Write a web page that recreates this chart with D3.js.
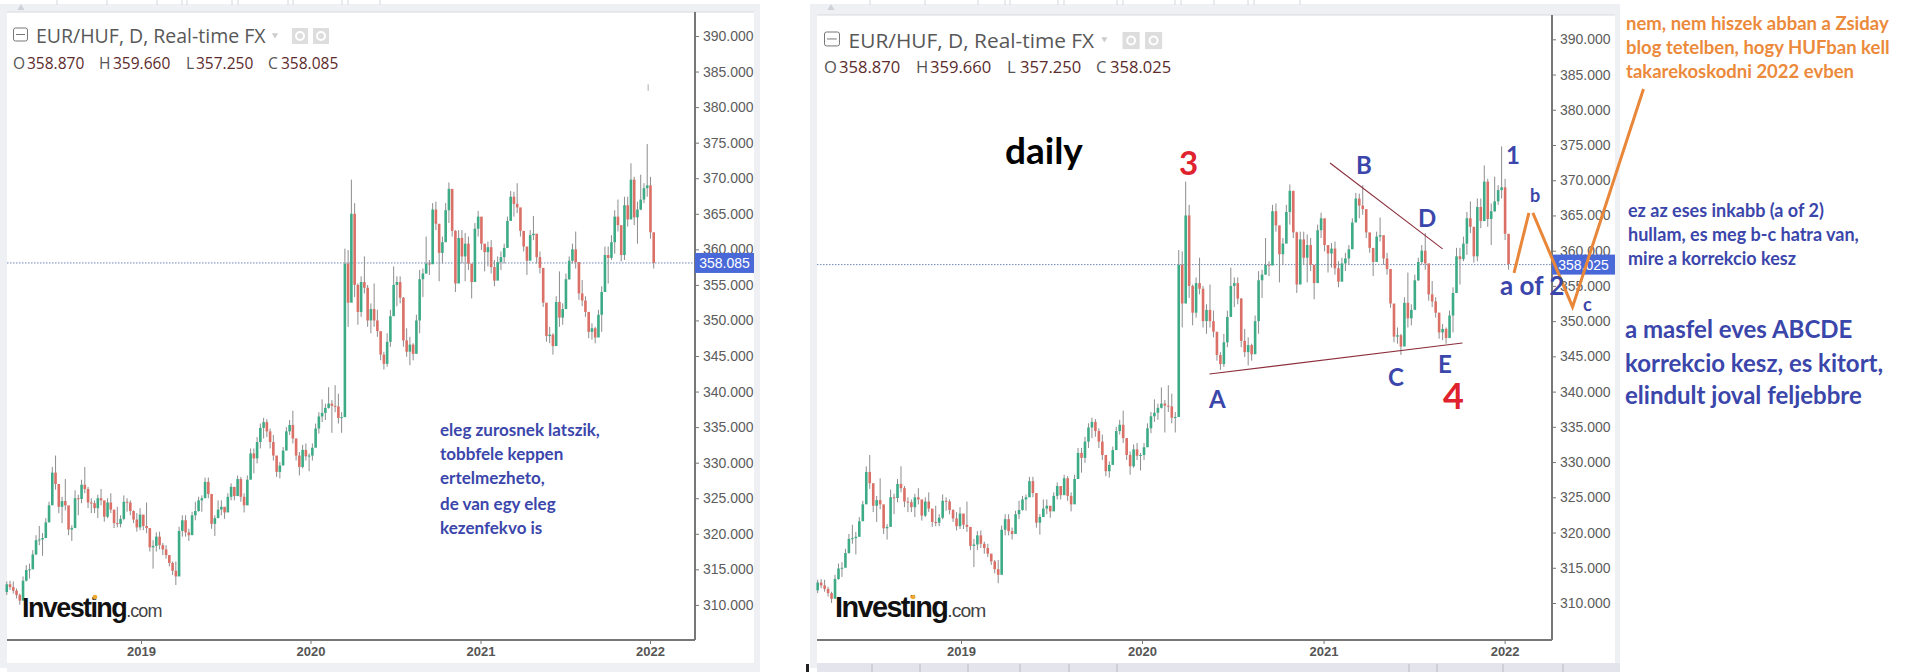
<!DOCTYPE html>
<html>
<head>
<meta charset="utf-8">
<script src="https://d3js.org/d3.v7.min.js"></script>
<style>
  html, body { margin: 0; padding: 0; background: #fff; }
  svg { display: block; }
  .axis text { font-family: "Liberation Sans", Arial, sans-serif; font-size: 14px; fill: #5c5c5c; }
  .axis path, .axis line { stroke: #777; }
  .axis path { stroke-width: 2px; }
  .xaxis text { font-weight: bold; font-size: 13px; fill: #555; }
  .note { font-family: Lato, sans-serif; font-weight: bold; }
</style>
</head>
<body>
<div id="chart"></div>
<script>
// weekly bars
const highs = [
  313.3,313.4,313.3,312.3,311.6,314.0,315.6,315.8,317.7,319.8,
  321.1,320.1,322.2,324.5,329.4,331.0,326.2,325.2,327.7,322.9,
  321.2,326.1,325.5,327.6,329.4,326.6,325.0,324.7,325.5,326.3,
  324.5,325.0,325.7,322.9,323.8,322.6,325.4,325.0,324.7,323.3,
  322.9,323.6,322.6,324.4,320.1,319.1,320.2,320.3,318.7,318.4,
  317.0,316.1,316.1,321.0,322.6,322.6,320.7,323.1,324.5,325.2,
  325.4,327.9,327.9,325.4,322.6,324.7,324.7,323.5,325.7,327.1,
  326.4,328.2,328.0,325.7,328.2,332.0,332.0,333.6,335.5,336.3,
  336.1,334.8,333.9,330.8,330.1,332.2,335.0,336.0,337.3,333.4,
  331.5,332.5,332.7,331.3,332.7,335.5,337.1,338.9,338.3,340.6,
  338.8,340.9,339.7,337.1,360.1,359.9,369.8,366.5,355.2,356.2,
  359.0,355.0,352.4,355.2,351.5,348.2,345.6,348.2,351.5,357.6,
  356.2,356.2,353.3,348.9,347.7,346.8,350.8,357.1,357.3,361.8,
  358.5,366.5,366.7,363.2,361.8,366.5,369.4,367.2,362.7,362.7,
  362.7,362.3,361.8,356.6,363.7,365.4,364.1,360.4,361.1,361.3,
  358.5,359.0,359.7,360.8,364.6,368.2,368.1,369.3,365.5,362.0,
  359.9,362.7,364.7,361.1,359.7,357.1,351.9,349.1,348.2,353.4,
  356.9,352.4,356.6,359.0,360.8,362.5,357.3,355.7,353.4,351.2,
  349.6,349.1,351.5,354.8,360.4,360.4,362.0,365.5,367.0,362.3,
  367.4,367.4,372.1,370.2,366.7,370.5,369.3,374.8,370.2,360.8
]
const lows = [
  311.4,312.1,311.6,310.9,310.0,312.2,313.3,313.7,315.1,317.0,
  318.4,316.9,319.4,321.7,325.2,326.2,322.9,321.5,323.3,319.8,
  319.0,322.2,322.6,324.3,325.7,323.6,322.9,322.9,322.2,324.0,
  321.7,322.2,322.9,320.8,320.9,320.9,321.9,323.1,322.6,321.5,
  320.3,320.5,320.5,320.1,317.5,315.1,317.5,317.8,317.0,316.5,
  315.4,314.2,312.8,315.8,319.6,319.6,319.0,320.3,321.9,323.1,
  323.1,325.4,325.0,320.7,319.7,322.6,322.6,322.1,323.5,324.7,
  324.7,326.1,324.5,323.0,325.0,328.0,328.5,329.9,332.0,333.4,
  333.6,332.0,330.3,328.0,327.8,329.9,332.0,333.9,332.7,330.3,
  328.2,329.2,330.3,328.8,330.3,332.7,334.1,335.7,336.0,337.6,
  334.2,337.1,335.5,334.2,336.9,349.1,358.0,353.3,349.4,350.5,
  353.8,349.1,348.2,349.1,347.7,344.4,343.1,343.5,346.3,351.5,
  352.0,352.4,346.3,344.9,343.7,344.4,346.8,348.2,353.3,356.6,
  356.4,359.0,362.7,355.5,358.0,362.0,363.7,361.8,354.0,357.6,
  358.0,355.5,357.1,353.1,356.2,361.8,359.9,356.9,357.6,356.6,
  354.8,355.9,357.1,358.0,360.6,364.8,364.6,365.1,361.8,359.7,
  356.4,358.5,361.3,358.0,356.6,351.9,347.0,346.8,345.2,347.7,
  349.1,349.4,352.4,355.7,358.0,357.3,352.9,352.0,350.5,347.5,
  347.3,346.8,348.7,348.4,354.8,355.2,358.5,359.4,362.5,358.3,
  358.5,363.2,367.2,363.4,360.8,365.5,366.5,367.4,361.5,357.3
]
const closes = [
  312.9,312.5,312.0,311.4,310.6,313.4,314.9,315.0,317.1,319.1,
  319.2,319.4,321.6,324.0,328.6,327.0,323.8,324.6,324.0,320.6,
  320.8,325.0,324.9,326.9,326.3,324.4,324.3,323.6,325.0,324.7,
  322.4,324.4,323.4,321.5,321.4,322.1,324.5,324.4,323.2,322.0,
  320.9,322.7,321.1,320.8,318.1,318.3,319.6,318.4,317.8,317.0,
  315.9,314.8,314.0,320.4,321.9,320.2,319.8,322.6,323.2,324.7,
  325.0,327.3,325.6,321.4,322.2,323.4,323.8,323.0,325.2,326.6,
  325.3,327.7,325.2,324.0,327.6,331.3,330.6,332.9,334.9,335.7,
  334.4,332.9,331.0,328.7,329.6,331.7,334.4,335.3,333.4,331.0,
  329.4,331.8,330.9,331.0,332.1,334.8,336.5,337.0,337.7,338.3,
  338.0,337.9,336.3,336.4,358.0,352.5,365.0,355.0,351.2,355.4,
  354.6,350.0,351.6,350.0,348.5,345.2,343.9,347.0,350.6,355.0,
  355.4,353.2,347.2,345.6,346.6,345.3,350.0,355.8,356.6,358.0,
  357.9,365.6,363.6,359.5,361.0,365.5,368.5,362.6,355.2,361.6,
  359.0,360.8,358.0,355.4,362.9,364.6,360.8,359.6,360.3,357.5,
  355.6,358.2,358.9,360.2,364.0,367.4,366.4,365.9,362.6,360.4,
  358.4,362.0,362.2,358.9,357.4,352.5,347.8,348.0,346.4,352.6,
  350.4,351.6,355.8,358.4,360.0,358.2,353.8,352.8,351.2,348.4,
  348.9,347.6,350.8,354.0,359.2,358.8,361.0,364.6,363.4,359.2,
  366.2,364.2,369.8,364.5,365.6,367.0,368.6,369.0,362.4,358.1
]
const firstOpen = 311.8
const barDates = d3.utcWeek.range(new Date(Date.UTC(2018, 2, 18)), new Date(Date.UTC(2022, 0, 10)))

const priceTicks = [310, 315, 320, 325, 330, 335, 340, 345, 350, 355, 360, 365, 370, 375, 380, 385, 390]
const yearTicks = ['2019-01-01', '2020-01-01', '2021-01-01', '2022-01-01'].map(d => new Date(d))

const title = 'EUR/HUF, D, Real-time FX'
const leftOhlc = ['358.870', '359.660', '357.250', '358.085']
const rightOhlc = ['358.870', '359.660', '357.250', '358.025']
const ohlcLetters = ['O', 'H', 'L', 'C']

const bars = barDates.map((d, i) => ({
  date: d,
  high: highs[i],
  low: lows[i],
  open: i === 0 ? firstOpen : closes[i - 1],
  close: closes[i]
}))

// lines drawn on the right chart, date + price
const upperTrend = [['2021-01-14', 372.45], ['2021-08-29', 360.25]]
const lowerTrend = [['2020-05-16', 342.5], ['2021-10-08', 346.9]]
const orangeUp = [['2022-01-20', 356.85], ['2022-02-19', 365.36]]
const orangeDown = [['2022-02-27', 365.36], ['2022-05-18', 352.03], ['2022-10-08', 382.95]]
const strayTick = [['2021-12-28', 382.3], ['2021-12-28', 383.2]]

const width = 1906
const height = 672
const svg = d3.select('#chart').append('svg').attr('width', width).attr('height', height)

// jpeg softness of the screenshot
svg.append('defs').append('filter').attr('id', 'soft')
  .append('feGaussianBlur').attr('stdDeviation', 0.45)

const leftPanel = {
  plotLeft: 7, axisX: 695, borderX: 754, stripX: 760, top: 12, bottom: 640,
  x2019: 141, x2022: 650, y310: 604.9, y390: 36, barFill: '#eef0f4',
  last: 358.085, lastLabel: '358.085', ohlc: leftOhlc, size: 1, headX: 13, headY: 0,
  ohlcX: [13, 99, 186, 268], valX: [27, 113, 196, 281]
}
const rightPanel = {
  plotLeft: 817, axisX: 1552, borderX: 1615, stripX: 1620, top: 15, bottom: 640,
  x2019: 961, x2022: 1504.6, y310: 603, y390: 39.3, barFill: '#e4e5ec',
  last: 358.025, lastLabel: '358.025', ohlc: rightOhlc, size: 1.07, headX: 824, headY: 4,
  ohlcX: [824, 916, 1007, 1096], valX: [839, 930, 1020, 1110]
}

function drawPanel(p) {
  const g = svg.append('g')
  const x = d3.scaleUtc().domain([yearTicks[0], yearTicks[3]]).range([p.x2019, p.x2022])
  const y = d3.scaleLinear().domain([310, 390]).range([p.y310, p.y390])

  // frame
  g.append('rect').attr('x', p.plotLeft - 7).attr('y', 4).attr('width', p.stripX - p.plotLeft + 7).attr('height', p.top - 4).attr('fill', '#eef0f4')
  g.append('rect').attr('x', p.plotLeft - 7).attr('y', 4).attr('width', 7).attr('height', 668 - 4).attr('fill', '#eef0f4')
  g.append('rect').attr('x', p.borderX).attr('y', p.top).attr('width', p.stripX - p.borderX).attr('height', 652).attr('fill', '#eef0f4')
  g.append('rect').attr('x', p.plotLeft).attr('y', 663).attr('width', p.stripX - p.plotLeft).attr('height', 9).attr('fill', p.barFill)
  g.append('line').attr('x1', p.plotLeft).attr('x2', p.borderX).attr('y1', p.top).attr('y2', p.top).attr('stroke', '#d8dade')
  g.append('path').attr('d', d3.symbol(d3.symbolTriangle, 22)()).attr('transform', `translate(${p.plotLeft + 14},8)`).attr('fill', '#cfd2d8')

  // last price line
  g.append('line').attr('x1', p.plotLeft).attr('x2', p.axisX).attr('y1', y(p.last)).attr('y2', y(p.last))
    .attr('stroke', '#6f86b8').attr('stroke-dasharray', '1.5 1.5')

  // candles
  const candle = g.append('g').attr('filter', 'url(#soft)').selectAll('g').data(bars).enter().append('g')
  candle.append('line')
    .attr('x1', d => x(d.date)).attr('x2', d => x(d.date))
    .attr('y1', d => y(d.high)).attr('y2', d => y(d.low))
    .attr('stroke', '#8d8d8d')
  candle.append('rect')
    .attr('x', d => x(d.date) - 1.3)
    .attr('width', 2.6)
    .attr('y', d => y(Math.max(d.open, d.close)))
    .attr('height', d => Math.max(1, Math.abs(y(d.open) - y(d.close))))
    .attr('fill', d => d.close >= d.open ? '#3dab87' : '#db6f66')

  // axes
  g.append('g').attr('class', 'axis').attr('transform', `translate(${p.axisX},0)`)
    .call(d3.axisRight(y).tickValues(priceTicks).tickSize(4).tickPadding(4).tickFormat(d => d.toFixed(3)))
    .call(a => a.select('.domain').attr('d', `M0,${p.top}V${p.bottom}`))
  g.append('g').attr('class', 'axis xaxis').attr('transform', `translate(0,${p.bottom})`)
    .call(d3.axisBottom(x).tickValues(yearTicks).tickSize(4).tickPadding(3).tickFormat(d3.utcFormat('%Y')))
    .call(a => a.select('.domain').attr('d', `M${p.plotLeft},0H${p.axisX}`))

  // last price flag
  g.append('rect').attr('x', p.axisX).attr('y', y(p.last) - 10).attr('width', p.borderX - p.axisX).attr('height', 20).attr('fill', '#4a69d8')
  g.append('text').attr('x', p.axisX + (p.borderX - p.axisX) / 2).attr('y', y(p.last) + 5)
    .attr('text-anchor', 'middle').attr('font-family', 'Liberation Sans').attr('font-size', 14).attr('fill', '#fff').text(p.lastLabel)

  // legend header
  const head = g.append('g')
  const s = p.size
  const iconY = 28 + p.headY
  head.append('rect').attr('x', p.headX + 0.5).attr('y', iconY).attr('width', 14 * s).attr('height', 13 * s).attr('rx', 2)
    .attr('fill', 'none').attr('stroke', '#777')
  head.append('line').attr('x1', p.headX + 3).attr('x2', p.headX + 12 * s).attr('y1', iconY + 6.5 * s).attr('y2', iconY + 6.5 * s).attr('stroke', '#777')
  head.append('text').attr('x', p.headX + 23 * s).attr('y', iconY + 15 * s)
    .attr('font-family', 'Open Sans').attr('font-size', 19.5 * s).attr('fill', '#585858').text(title)
  const triX = p.headX + 262 * s
  head.append('path').attr('d', d3.symbol(d3.symbolTriangle, 16)()).attr('transform', `translate(${triX},${iconY + 7}) rotate(180)`).attr('fill', '#ccc')
  ;[279, 300].forEach(off => {
    const bx = p.headX + off * s
    head.append('rect').attr('x', bx).attr('y', iconY).attr('width', 16 * s).attr('height', 16 * s).attr('fill', '#ddd')
    head.append('circle').attr('cx', bx + 8 * s).attr('cy', iconY + 8 * s).attr('r', 4).attr('fill', 'none').attr('stroke', '#fff').attr('stroke-width', 2)
  })
  ohlcLetters.forEach((l, i) => {
    head.append('text').attr('x', p.ohlcX[i]).attr('y', 69 + p.headY).attr('font-family', 'Open Sans').attr('font-size', 15.5 * s).attr('fill', '#555').text(l)
    head.append('text').attr('x', p.valX[i]).attr('y', 69 + p.headY).attr('font-family', 'Open Sans').attr('font-size', 15.5 * s).attr('fill', '#5c2b2b').text(p.ohlc[i])
  })

  // logo
  const logoX = p === leftPanel ? 22 : 835
  const logo = g.append('text').attr('x', logoX).attr('y', 617).attr('font-family', 'Liberation Sans')
    .attr('font-size', 27 * s).attr('fill', '#111')
  logo.append('tspan').attr('font-weight', 'bold').attr('letter-spacing', -1.6).text('Investing')
  logo.append('tspan').attr('font-size', 18 * s).attr('fill', '#444').attr('letter-spacing', -0.9).text('.com')
  g.append('circle').attr('cx', logoX + 73 * s).attr('cy', 597).attr('r', 2.3).attr('fill', '#f0a830')

  return { x, y }
}

const leftScales = drawPanel(leftPanel)
const rightScales = drawPanel(rightPanel)

// tab row on top
const tabEdges = [57, 107, 157, 182, 187, 232, 238, 288, 293, 342, 348, 380, 870, 925, 978, 1005, 1010, 1058, 1064, 1117, 1123, 1175, 1181, 1214, 1248, 1254, 1300]
svg.append('g').selectAll('line').data(tabEdges).enter().append('line')
  .attr('x1', d => d).attr('x2', d => d).attr('y1', 0).attr('y2', 5).attr('stroke', '#d5d7dc')

// separators in the bottom bar of the right chart
const bottomEdges = [872, 920, 968, 1020, 1069, 1117, 1409, 1437, 1503, 1563]
svg.append('g').selectAll('line').data(bottomEdges).enter().append('line')
  .attr('x1', d => d).attr('x2', d => d).attr('y1', 664).attr('y2', 672).attr('stroke', '#b9bbc4')

// black stub bottom left of the right chart
svg.append('rect').attr('x', 806).attr('y', 664).attr('width', 3).attr('height', 8).attr('fill', '#222')

// little mark above the last bars on the left
const parseDate = d => new Date(d)
const leftLine = d3.line().x(d => leftScales.x(parseDate(d[0]))).y(d => leftScales.y(d[1]))
const rightLine = d3.line().x(d => rightScales.x(parseDate(d[0]))).y(d => rightScales.y(d[1]))
svg.append('path').attr('d', leftLine(strayTick)).attr('stroke', '#aaa').attr('fill', 'none')

;[upperTrend, lowerTrend].forEach(t => {
  svg.append('path').attr('d', rightLine(t)).attr('fill', 'none').attr('stroke', '#8c2f3c').attr('stroke-width', 1.1)
})
;[orangeUp, orangeDown].forEach(t => {
  svg.append('path').attr('d', rightLine(t)).attr('fill', 'none').attr('stroke', '#e8873a').attr('stroke-width', 3)
})

// written notes
function note(txt, x, y, size, color) {
  svg.append('text').attr('class', 'note').attr('x', x).attr('y', y)
    .attr('font-size', size).attr('fill', color).text(txt)
}
const blue = '#3b46ab'
const red = '#e0222e'
const orange = '#ec8a3c'

;[['eleg zurosnek latszik,', 436], ['tobbfele keppen', 460], ['ertelmezheto,', 484], ['de van egy eleg', 510], ['kezenfekvo is', 534]]
  .forEach(l => note(l[0], 440, l[1], 17, blue))

note('daily', 1005, 164, 37, '#000')
note('3', 1179, 175, 33, red)
note('4', 1443, 409, 36, red)
note('A', 1209, 408, 24, blue)
note('B', 1356, 174, 24, blue)
note('C', 1388, 386, 24, blue)
note('D', 1418, 227, 24, blue)
note('E', 1438, 373, 24, blue)
note('1', 1506, 164, 24, blue)
note('a of 2', 1500, 295, 26, blue)
note('b', 1530, 202, 18, blue)
note('c', 1583, 311, 18, blue)

;[['nem, nem hiszek abban a Zsiday', 30], ['blog tetelben, hogy HUFban kell', 54], ['takarekoskodni 2022 evben', 78]]
  .forEach(l => note(l[0], 1626, l[1], 18.5, orange))
;[['ez az eses inkabb (a of 2)', 217], ['hullam, es meg b-c hatra van,', 241], ['mire a korrekcio kesz', 265]]
  .forEach(l => note(l[0], 1628, l[1], 18, blue))
;[['a masfel eves ABCDE', 338], ['korrekcio kesz, es kitort,', 372], ['elindult joval feljebbre', 404]]
  .forEach(l => note(l[0], 1625, l[1], 24, blue))
</script>
</body>
</html>
